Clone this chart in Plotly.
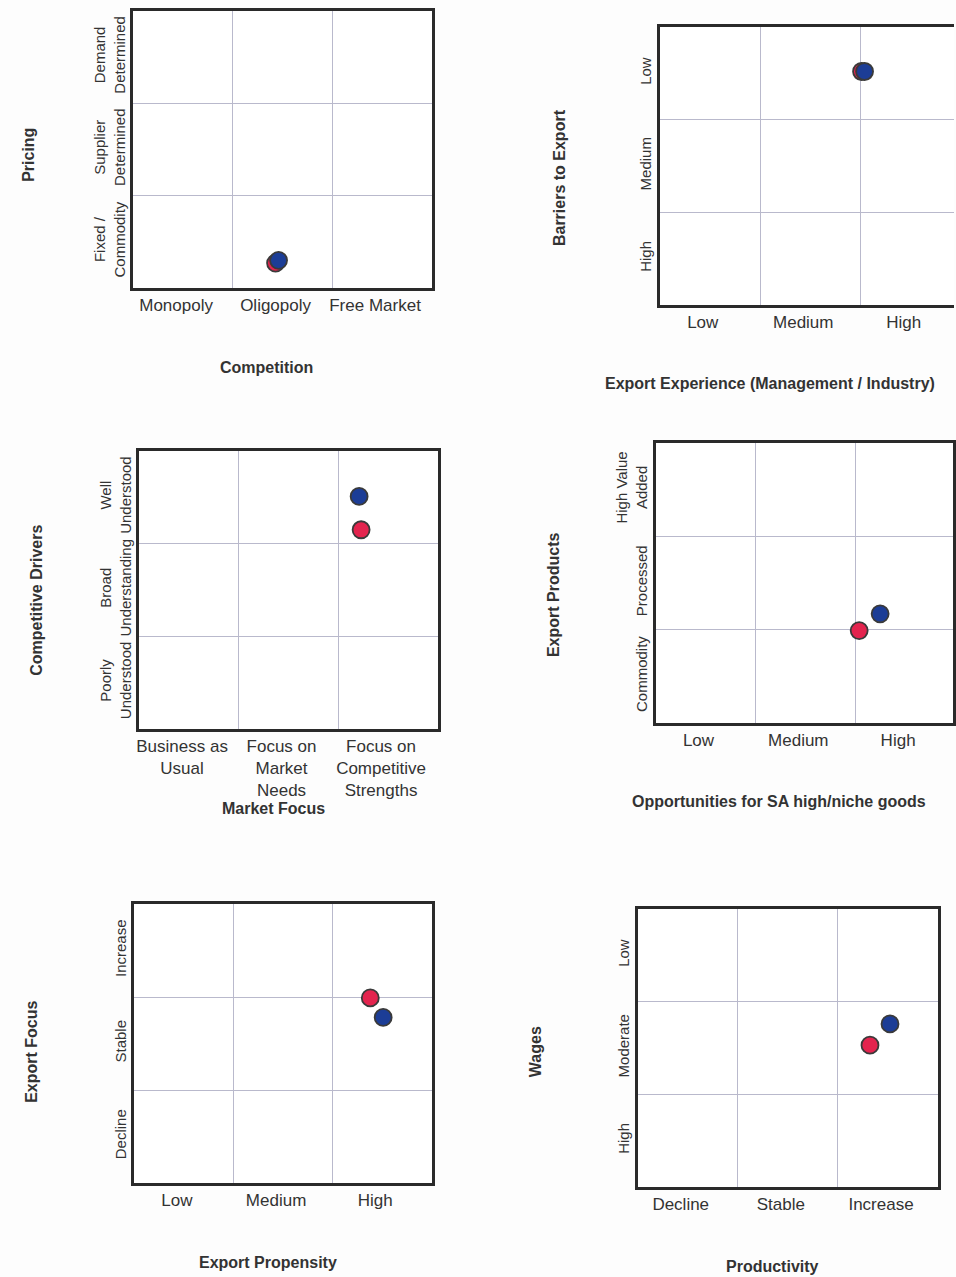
import plotly.graph_objects as go

W, H = 956, 1277

# ---------------- data ----------------
p1_xticks = ["Monopoly", "Oligopoly", "Free Market"]
p1_yticks = ["Fixed /<br>Commodity", "Supplier<br>Determined", "Demand<br>Determined"]
p1_red = (1.43, 0.27)
p1_blue = (1.46, 0.30)

p2_xticks = ["Low", "Medium", "High"]
p2_yticks = ["High", "Medium", "Low"]
p2_red = (2.01, 2.52)
p2_blue = (2.04, 2.52)

p3_xticks = ["Business as<br>Usual", "Focus on<br>Market<br>Needs", "Focus on<br>Competitive<br>Strengths"]
p3_yticks = ["Poorly<br>Understood", "Broad<br>Understanding", "Well<br>Understood"]
p3_red = (2.23, 2.15)
p3_blue = (2.21, 2.51)

p4_xticks = ["Low", "Medium", "High"]
p4_yticks = ["Commodity", "Processed", "High Value<br>Added"]
p4_red = (2.04, 0.99)
p4_blue = (2.25, 1.17)

p5_xticks = ["Low", "Medium", "High"]
p5_yticks = ["Decline", "Stable", "Increase"]
p5_red = (2.38, 1.99)
p5_blue = (2.51, 1.78)

p6_xticks = ["Decline", "Stable", "Increase"]
p6_yticks = ["High", "Moderate", "Low"]
p6_red = (2.32, 1.53)
p6_blue = (2.52, 1.76)

x_titles = ["Competition", "Export Experience (Management / Industry)", "Market Focus",
            "Opportunities for SA high/niche goods", "Export Propensity", "Productivity"]
y_titles = ["Pricing", "Barriers to Export", "Competitive Drivers",
            "Export Products", "Export Focus", "Wages"]

# ---------------- layout geometry (pixels) ----------------
boxes = [  # x0, x1, y0(top), y1(bottom), xmax
    (131, 431, 11, 288, 3.0),
    (660, 956, 27, 305, 2.93),
    (137, 437, 451, 729, 3.0),
    (656, 955, 443, 723, 2.98),
    (132, 431, 904, 1183, 3.0),
    (638, 940, 909, 1187, 3.0),
]
xtitle_pos = [(265, 367, "center"), (603, 384, "left"), (272, 808, "center"),
              (780, 801, "center"), (266, 1262, "center"), (774, 1266, "center")]
ytitle_pos = [(26, 155), (559, 178), (33, 600), (553, 595), (28, 1052), (535, 1052)]

panels = [
    (p1_xticks, p1_yticks, p1_red, p1_blue),
    (p2_xticks, p2_yticks, p2_red, p2_blue),
    (p3_xticks, p3_yticks, p3_red, p3_blue),
    (p4_xticks, p4_yticks, p4_red, p4_blue),
    (p5_xticks, p5_yticks, p5_red, p5_blue),
    (p6_xticks, p6_yticks, p6_red, p6_blue),
]

FONT = "Liberation Sans, Arial, sans-serif"
RED = "#e3244e"
BLUE = "#1c3d96"
GRID = "#b9b9cc"
LINE = "#2a2a2a"

fig = go.Figure()
layout = dict(
    width=W, height=H, margin=dict(l=0, r=0, t=0, b=0),
    paper_bgcolor="#fdfdfd", plot_bgcolor="#ffffff",
    showlegend=False, font=dict(family=FONT, color="#333333"),
    annotations=[],
)

for i, (xt, yt, red, blue) in enumerate(panels):
    k = "" if i == 0 else str(i + 1)
    x0, x1, y0, y1, xmax = boxes[i]
    xa = dict(
        domain=[x0 / W, x1 / W], range=[0, xmax], anchor="y" + k,
        tickmode="array", tickvals=[0.43, 1.43, 2.43], ticktext=xt,
        showgrid=False, zeroline=False, ticks="", tickangle=0,
        tickfont=dict(size=17, color="#333333", family=FONT),
        showline=True, linecolor=LINE, linewidth=2.5, mirror=True,
        minor=dict(tickvals=[1, 2], showgrid=True, gridcolor=GRID, gridwidth=1, ticks=""),
        fixedrange=True,
    )
    ya = dict(
        domain=[1 - y1 / H, 1 - y0 / H], range=[0, 3], anchor="x" + k,
        tickmode="array", tickvals=[0.5, 1.5, 2.5], ticktext=yt,
        showgrid=False, zeroline=False, ticks="", tickangle=-90,
        tickfont=dict(size=15, color="#333333", family=FONT),
        showline=True, linecolor=LINE, linewidth=2.5,
        mirror=(xmax >= 2.98),
        minor=dict(tickvals=[1, 2], showgrid=True, gridcolor=GRID, gridwidth=1, ticks=""),
        fixedrange=True,
    )
    layout["xaxis" + k] = xa
    layout["yaxis" + k] = ya

    for pt, col in ((red, RED), (blue, BLUE)):
        fig.add_trace(go.Scatter(
            x=[pt[0]], y=[pt[1]], mode="markers", xaxis="x" + k, yaxis="y" + k,
            marker=dict(size=17, color=col, line=dict(color="#3a3a3a", width=1.8)),
            cliponaxis=False, hoverinfo="skip",
        ))

    tx, ty, anc = xtitle_pos[i]
    layout["annotations"].append(dict(
        text="<b>" + x_titles[i] + "</b>", x=tx / W, y=1 - ty / H, xref="paper", yref="paper",
        xanchor=anc, yanchor="middle", showarrow=False,
        font=dict(size=16, color="#333333", family=FONT)))
    vx, vy = ytitle_pos[i]
    layout["annotations"].append(dict(
        text="<b>" + y_titles[i] + "</b>", x=vx / W, y=1 - vy / H, xref="paper", yref="paper",
        xanchor="center", yanchor="middle", showarrow=False, textangle=-90,
        font=dict(size=16, color="#333333", family=FONT)))

fig.update_layout(**layout)
fig.write_html(
    "out.html",
    config={"displayModeBar": False},
    post_script="document.body.style.margin='0';document.body.style.overflow='hidden';",
)
